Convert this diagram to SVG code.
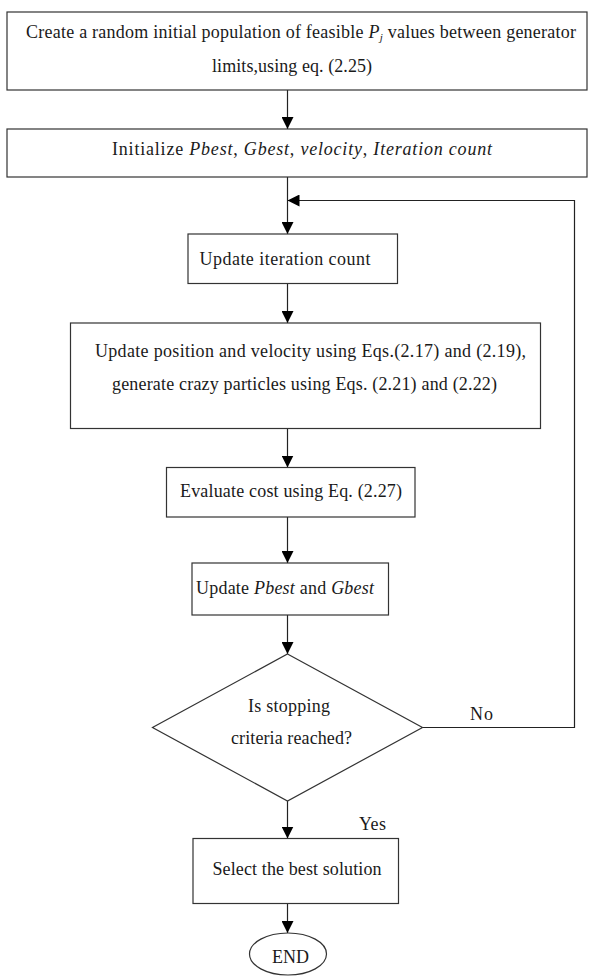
<svg xmlns="http://www.w3.org/2000/svg" width="589" height="977" viewBox="0 0 589 977">
  <style>
    .box { fill: #ffffff; stroke: #333333; stroke-width: 1.2; }
    .line { fill: none; stroke: #222222; stroke-width: 1.2; }
    .lbl { font-family: 'Liberation Serif', 'Times New Roman', serif; font-size: 18px; fill: #1a1a1a; }
    .it { font-style: italic; }
  </style>
  <defs>
    <marker id="arrow" viewBox="0 0 12 12" refX="12" refY="6" markerWidth="12" markerHeight="12" markerUnits="userSpaceOnUse" orient="auto">
      <path d="M0,0 L12,6 L0,12 Z" fill="#000000"/>
    </marker>
  </defs>
  <rect width="589" height="977" fill="#ffffff"/>

  <!-- connectors -->
  <g id="connectors">
    <line class="line" x1="287.5" y1="90" x2="287.5" y2="129" marker-end="url(#arrow)"/>
    <line class="line" x1="287.5" y1="177" x2="287.5" y2="234" marker-end="url(#arrow)"/>
    <line class="line" x1="287.5" y1="283.5" x2="287.5" y2="323" marker-end="url(#arrow)"/>
    <line class="line" x1="287.5" y1="428.5" x2="287.5" y2="467.5" marker-end="url(#arrow)"/>
    <line class="line" x1="287.5" y1="517" x2="287.5" y2="563" marker-end="url(#arrow)"/>
    <line class="line" x1="287.5" y1="615" x2="287.5" y2="654" marker-end="url(#arrow)"/>
    <line class="line" x1="287.5" y1="801" x2="287.5" y2="838.5" marker-end="url(#arrow)"/>
    <line class="line" x1="287.5" y1="903.5" x2="287.5" y2="933" marker-end="url(#arrow)"/>
    <!-- loop back when the stopping test fails -->
    <polyline class="line" points="422.5,727.5 574.5,727.5 574.5,200.5 287.5,200.5" marker-end="url(#arrow)"/>
    <text class="lbl" x="470" y="720" textLength="23">No</text>
    <text class="lbl" x="359" y="830" textLength="27">Yes</text>
  </g>

  <g id="init-population">
    <rect class="box" x="7" y="12" width="580" height="78"/>
    <text class="lbl" x="26" y="38" textLength="550">Create a random initial population of feasible <tspan class="it">P</tspan><tspan class="it" font-size="11" dy="3">j</tspan><tspan dy="-3"> values between generator</tspan></text>
    <text class="lbl" x="212" y="72" textLength="160">limits,using eq. (2.25)</text>
  </g>

  <g id="initialize">
    <rect class="box" x="7" y="129" width="580" height="48"/>
    <text class="lbl" x="112" y="155" textLength="380">Initialize  <tspan class="it">Pbest</tspan>, <tspan class="it">Gbest</tspan>,  <tspan class="it">velocity</tspan>, <tspan class="it">Iteration count</tspan></text>
  </g>

  <g id="update-iteration">
    <rect class="box" x="188" y="234" width="209.5" height="49.5"/>
    <text class="lbl" x="199.5" y="265" textLength="171">Update iteration count</text>
  </g>

  <g id="update-position">
    <rect class="box" x="70.5" y="323" width="470" height="105.5"/>
    <text class="lbl" x="95" y="357" textLength="431">Update position and velocity using Eqs.(2.17) and (2.19),</text>
    <text class="lbl" x="112" y="390" textLength="385">generate crazy particles using Eqs. (2.21) and (2.22)</text>
  </g>

  <g id="evaluate-cost">
    <rect class="box" x="166.5" y="467.5" width="248.5" height="49.5"/>
    <text class="lbl" x="180" y="497" textLength="222">Evaluate cost using Eq. (2.27)</text>
  </g>

  <g id="update-best">
    <rect class="box" x="192" y="563" width="196.5" height="52"/>
    <text class="lbl" x="196" y="593.5" textLength="178">Update  <tspan class="it">Pbest</tspan> and <tspan class="it">Gbest</tspan></text>
  </g>

  <g id="stop-check">
    <polygon class="box" points="287.5,654 422.5,727.5 287.5,801 152.5,727.5"/>
    <text class="lbl" x="248" y="712" textLength="82">Is stopping</text>
    <text class="lbl" x="231" y="744" textLength="121">criteria reached?</text>
  </g>

  <g id="select-best">
    <rect class="box" x="193" y="838.5" width="205.5" height="65"/>
    <text class="lbl" x="212.5" y="874.5" textLength="169">Select the best solution</text>
  </g>

  <g id="end">
    <ellipse class="box" cx="288" cy="954" rx="38.5" ry="21"/>
    <text class="lbl" x="272" y="963" textLength="37">END</text>
  </g>
</svg>
